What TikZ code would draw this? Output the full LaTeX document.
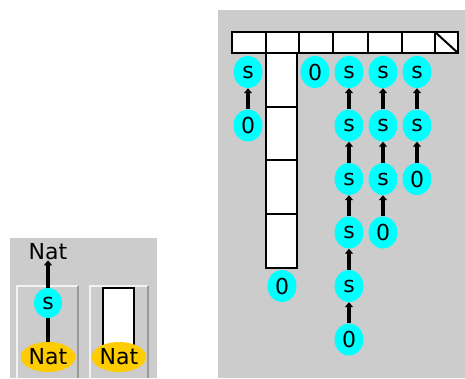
\documentclass[tikz,border=0pt]{standalone}
\usepackage{fontspec}
\setmainfont{DejaVu Sans}
\usetikzlibrary{shapes.geometric,arrows.meta}
\definecolor{panelgrey}{HTML}{CCCCCC}
\definecolor{termcyan}{HTML}{00FFFF}
\definecolor{typegold}{HTML}{FFCC00}
\definecolor{bevellight}{HTML}{F2F2F2}
\definecolor{beveldark}{HTML}{999999}
\tikzset{
  term/.style={ellipse, fill=termcyan, draw=none, inner sep=0pt,
    minimum width=29pt, minimum height=32pt, font=\fontsize{22}{22}\selectfont},
  typeoval/.style={ellipse, fill=typegold, draw=none, inner sep=0pt,
    minimum width=50pt, minimum height=30pt, font=\fontsize{22}{22}\selectfont},
  label/.style={inner sep=0pt, font=\fontsize{22}{22}\selectfont},
  conn/.style={line width=3.5pt, -{Triangle[width=8pt,length=5pt]}},
  plainconn/.style={line width=3.5pt},
  cell/.style={draw=black, line width=2pt, fill=white},
}
\begin{document}
\begin{tikzpicture}[x=1pt,y=-1pt]
\useasboundingbox (0,0) rectangle (465,378);
\fill[white] (0,0) rectangle (465,378);

% ---- left panel: the type Nat and its constructor s ----
\fill[panelgrey] (10,238) rectangle (157,378);
% bevelled sub-boxes
\draw[bevellight, line width=1.5pt] (17,378) -- (17,286) -- (78,286);
\draw[beveldark, line width=1.5pt] (78,286) -- (78,378);
\draw[bevellight, line width=1.5pt] (90,378) -- (90,286) -- (148,286);
\draw[beveldark, line width=1.5pt] (148,286) -- (148,378);

\node[label] (natL) at (48,252) {Nat};
\node[term, minimum width=28pt, minimum height=30pt] (sL) at (48,303) {s};
\node[typeoval] (natA) at (48,357) {Nat};
\draw[conn] (sL) -- (natL);
\draw[plainconn] (natA) -- (sL);

\draw[draw=black, line width=2pt, fill=white] (103,345) -- (103,288) -- (134,288) -- (134,345);
\node[typeoval] (natB) at (119,357) {Nat};

% ---- right panel: the array of numerals ----
\fill[panelgrey] (218,10) rectangle (465,378);

% top row of cells
\foreach \xa/\xb in {232/266,266/299,299/333,333/368,368/402,402/435,435/458}
  \draw[cell] (\xa,32) rectangle (\xb,53);
\draw[black, line width=2pt] (435,32) -- (458,53);

% vertical column of cells
\foreach \ya/\yb in {53/107,107/160,160/214,214/268}
  \draw[cell] (266,\ya) rectangle (297,\yb);

% first chain: s 0
\node[term] (a1) at (248,72) {s};
\node[term] (a0) at (248,125.5) {0};
\draw[conn] (a0) -- (a1);

% bare zero
\node[term] (b0) at (315,72) {0};

% zero under the column
\node[term] (c0) at (282,286) {0};

% long chain: s s s s s 0
\node[term] (d5) at (349,72) {s};
\node[term] (d4) at (349,125.5) {s};
\node[term] (d3) at (349,179) {s};
\node[term] (d2) at (349,232.5) {s};
\node[term] (d1) at (349,286) {s};
\node[term] (d0) at (349,339.5) {0};
\draw[conn] (d0) -- (d1);
\draw[conn] (d1) -- (d2);
\draw[conn] (d2) -- (d3);
\draw[conn] (d3) -- (d4);
\draw[conn] (d4) -- (d5);

% chain: s s s 0
\node[term] (e3) at (383,72) {s};
\node[term] (e2) at (383,125.5) {s};
\node[term] (e1) at (383,179) {s};
\node[term] (e0) at (383,232.5) {0};
\draw[conn] (e0) -- (e1);
\draw[conn] (e1) -- (e2);
\draw[conn] (e2) -- (e3);

% chain: s s 0
\node[term] (f2) at (417,72) {s};
\node[term] (f1) at (417,125.5) {s};
\node[term] (f0) at (417,179) {0};
\draw[conn] (f0) -- (f1);
\draw[conn] (f1) -- (f2);
\end{tikzpicture}
\end{document}
